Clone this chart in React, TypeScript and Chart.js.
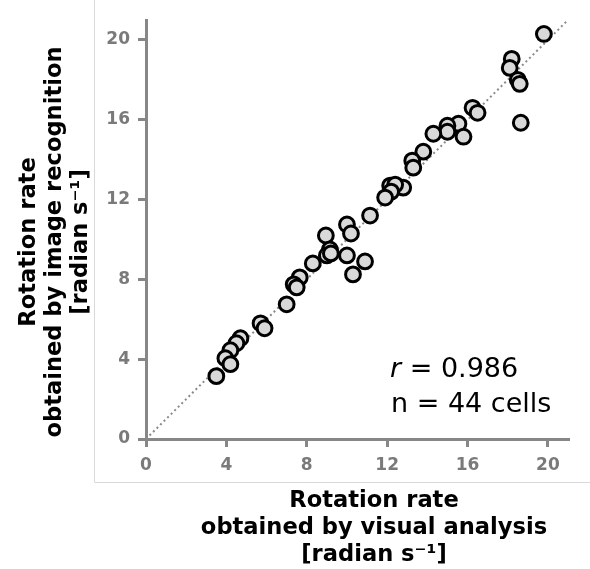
import React, { useEffect, useRef } from "react";
import { Chart, registerables } from "chart.js";

Chart.register(...registerables);

// Rotation rate obtained by visual analysis [radian s^-1]
const visualAnalysis = [
  19.8, 18.2, 18.1, 18.5, 18.6, 18.65, 16.25, 16.5, 15.55, 15.0, 15.0,
  15.8, 14.3, 13.8, 13.25, 13.3, 12.8, 12.15, 12.4, 12.2, 11.9, 11.15,
  10.0, 10.2, 8.95, 9.15, 9.0, 9.2, 10.0, 10.9, 10.3, 8.3, 7.65,
  7.35, 7.5, 7.0, 5.7, 5.9, 4.7, 4.5, 4.2, 3.95, 4.2, 3.5,
];
// Rotation rate obtained by image recognition [radian s^-1]
const imageRecognition = [
  20.3, 19.05, 18.6, 18.0, 17.8, 15.85, 16.6, 16.35, 15.8, 15.7, 15.4,
  15.15, 15.3, 14.4, 13.95, 13.6, 12.6, 12.7, 12.75, 12.4, 12.1, 11.2,
  10.75, 10.3, 10.2, 9.5, 9.2, 9.3, 9.2, 8.9, 8.25, 8.8, 8.1,
  7.75, 7.6, 6.75, 5.8, 5.55, 5.05, 4.8, 4.45, 4.05, 3.75, 3.15,
];
const identityLine = [0, 21];
const axisMin = 0;
const axisMax = 21;
const tickValues = [0, 4, 8, 12, 16, 20];
const statLabel = "r";
const statValue = " = 0.986";
const countLabel = "n = 44 cells";
const xTitle = ["Rotation rate", "obtained by visual analysis", "[radian s\u207B\u00B9]"];
const yTitle = ["Rotation rate", "obtained by image recognition", "[radian s\u207B\u00B9]"];

export default function App() {
  const ref = useRef<HTMLCanvasElement>(null);

  useEffect(() => {
    const canvas = ref.current;
    if (!canvas) return;
    const points = visualAnalysis.map((x, i) => ({ x, y: imageRecognition[i] }));
    const linePts = identityLine.map((v) => ({ x: v, y: v }));

    const decor = {
      id: "decor",
      beforeDraw(chart: any) {
        const ctx = chart.ctx;
        ctx.save();
        ctx.strokeStyle = "#d9d9d9";
        ctx.lineWidth = 1;
        ctx.beginPath();
        ctx.moveTo(94.5, 0);
        ctx.lineTo(94.5, 482.5);
        ctx.lineTo(590, 482.5);
        ctx.stroke();
        ctx.restore();
      },
      afterDraw(chart: any) {
        const ctx = chart.ctx;
        ctx.save();
        ctx.fillStyle = "#000000";
        ctx.font = "bold 22.6px 'DejaVu Sans'";
        ctx.textAlign = "center";
        ctx.textBaseline = "middle";
        const xCenter = 374;
        xTitle.forEach((t, i) => ctx.fillText(t, xCenter, 501 + i * 27));
        ctx.save();
        ctx.translate(0, 242);
        ctx.rotate(-Math.PI / 2);
        yTitle.forEach((t, i) => ctx.fillText(t, 0, 29 + i * 26));
        ctx.restore();
        ctx.textAlign = "left";
        ctx.textBaseline = "alphabetic";
        ctx.font = "oblique 27px 'DejaVu Sans'";
        ctx.fillText(statLabel, 390, 377);
        const w = ctx.measureText(statLabel).width;
        ctx.font = "27px 'DejaVu Sans'";
        ctx.fillText(statValue, 390 + w, 377);
        ctx.fillText(countLabel, 391, 412);
        ctx.restore();
      },
    };

    const axisColor = "#878787";
    const makeScale = (isX: boolean) => ({
      type: "linear" as const,
      min: axisMin,
      max: axisMax,
      ticks: {
        color: "#7a7a7a",
        font: { family: "'DejaVu Sans'", size: 17, weight: "bold" as const },
        padding: 8,
        maxRotation: 0,
        autoSkip: false,
      },
      afterBuildTicks: (scale: any) => {
        scale.ticks = tickValues.map((v) => ({ value: v }));
      },
      afterFit: (scale: any) => {
        if (isX) scale.height = 130;
        else scale.width = 146;
      },
      grid: {
        display: true,
        drawOnChartArea: false,
        drawTicks: true,
        tickLength: 8,
        tickColor: axisColor,
        tickWidth: 3,
        color: axisColor,
        lineWidth: 3,
      },
      border: { display: true, color: axisColor, width: 3 },
      title: { display: false },
    });

    const chart = new Chart(canvas, {
      type: "scatter",
      data: {
        datasets: [
          {
            type: "line",
            data: linePts,
            borderColor: "#8a8a8a",
            borderWidth: 2,
            borderDash: [2, 3],
            pointRadius: 0,
            fill: false,
            order: 2,
          } as any,
          {
            type: "scatter",
            data: points,
            backgroundColor: "#d9d9d9",
            borderColor: "#000000",
            borderWidth: 3,
            pointRadius: 7.4,
            order: 1,
          },
        ],
      },
      options: {
        animation: false,
        responsive: true,
        maintainAspectRatio: false,
        layout: { padding: { left: 0, top: 20, right: 22, bottom: 0 } },
        clip: false as any,
        plugins: {
          legend: { display: false },
          tooltip: { enabled: false },
        },
        scales: {
          x: makeScale(true) as any,
          y: makeScale(false) as any,
        },
      },
      plugins: [decor],
    });

    return () => chart.destroy();
  }, []);

  return (
    <div style={{ position: "absolute", left: 0, top: 0, width: 590, height: 569, background: "#ffffff" }}>
      <canvas ref={ref} />
    </div>
  );
}
